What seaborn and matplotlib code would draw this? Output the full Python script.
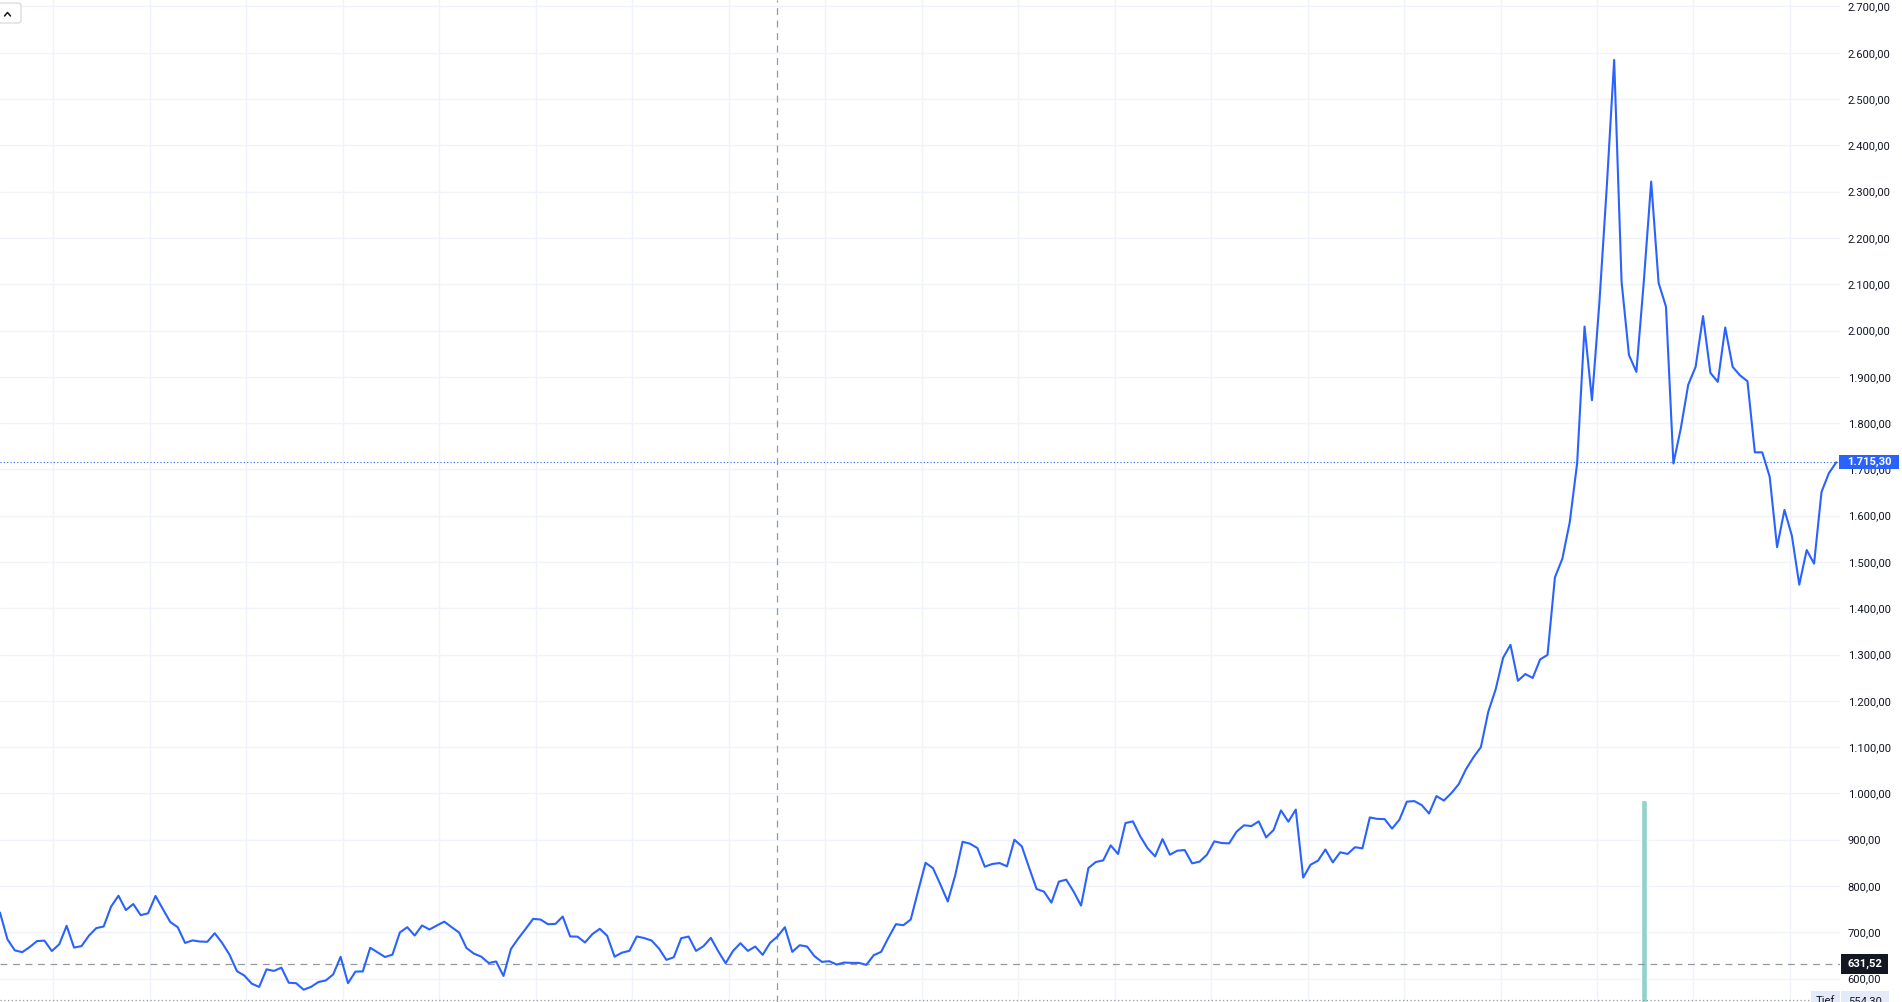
import matplotlib
matplotlib.use("Agg")
import numpy as np
import pandas as pd
import matplotlib.pyplot as plt
import seaborn as sns
from matplotlib.patches import FancyBboxPatch, Rectangle
from matplotlib.lines import Line2D
from matplotlib.transforms import blended_transform_factory

# weekly closing prices
close_prices = [
    742.6, 685, 661, 657, 668, 681, 682, 659.5, 674, 714, 667, 670, 692.5, 709, 712.5,
    755.5, 779, 748, 761, 737, 741, 778.5, 750, 722, 711, 677, 682.5, 680, 679.5, 698,
    677, 651.5, 616, 606.5, 589, 582, 620, 616.5, 623.6, 591, 590, 576, 582, 592.5, 596,
    609, 647, 590, 615, 615.5, 666.6, 656.5, 646.6, 651.6, 699.6, 711, 693, 714.7, 706,
    714.7, 723, 711, 699.6, 666, 654, 647.3, 633.6, 637, 605.7, 663.8, 686.7, 707.5, 729,
    727.5, 717.5, 718, 734, 691, 690.6, 678, 696, 707.5, 692.5, 647.3, 656, 660, 691, 687.5,
    682.2, 664.9, 640.4, 646.1, 687.2, 690.8, 659.8, 669.9, 687.9, 659.1, 633.2, 659.8,
    676.4, 659.8, 669.2, 651.2, 677.1, 690.8, 711, 657.7, 672.1, 669.2, 648.3, 636.1,
    637.5, 630.3, 634.6, 633.9, 633.9, 629.6, 650.5, 657.7, 688.7, 717.5, 715.3, 727.6,
    789.6, 850.1, 838.6, 803.3, 766.5, 822.7, 895.5,
    891.4, 882, 841.7, 847.5, 849.6, 842.5, 900, 885.6, 838.9, 793.5, 787.8, 764, 809.4,
    813.7, 787.8, 757.6, 838.9, 851.8, 855.4, 887.8, 869.1, 936, 939.6, 907.2, 881.3, 864,
    901.4, 867.6, 876.3, 877.7, 848.9, 852.5, 867.6, 896.4, 892.8, 892.1, 917.3, 931.1,
    929.5, 939.6, 905, 920.9, 963.3, 938.9,
    965.1, 818.2, 846.1, 854.6, 878.9, 851, 872.8, 869.2, 883.8, 881.3, 948.1, 945, 944.5,
    923.9, 943.3, 982.2, 983.4, 974.9, 956.6, 994.3, 984.6, 1000.4, 1019.8, 1052.6, 1078.1,
    1100, 1176.5, 1225, 1293, 1321, 1243.3, 1257.9, 1249.4, 1289.4, 1299.2, 1466.8, 1506.9,
    1585.8, 1713.3, 2008.5, 1849.4, 2059.5,
    2310, 2584.5, 2105.4, 1947, 1910.7, 2105.4, 2321.8, 2103, 2051.3, 1712.8, 1788.5,
    1882.8, 1921.5, 2031.2, 1908.4, 1889, 2006.5, 1921.5, 1903, 1890.6, 1736.8, 1736.8,
    1684.2, 1532, 1612.4, 1556.7, 1450.9, 1525.8, 1496.4, 1651, 1692, 1715.3,
]
last_price = 1715.30
ref_price = 631.52
low_price = 554.30
crosshair_bar = 105
volume_bar = 222
volume_top = 986
y_ticks = list(range(600, 2800, 100))

LINE_BLUE = "#2962FF"
GRID = "#f0f3fa"
TEXT = "#131722"


def de_fmt(v):
    return f"{v:,.2f}".replace(",", "X").replace(".", ",").replace("X", ".")


df = pd.DataFrame({"bar": np.arange(len(close_prices)), "close": close_prices})

sns.set_theme(style="white")
plt.rcParams["font.family"] = ["Roboto", "DejaVu Sans"]

W, H = 1902, 1002
fig = plt.figure(figsize=(W / 100, H / 100), dpi=100)
fig.patch.set_facecolor("white")
ax = fig.add_axes([0, 0, 1840 / W, 1])
ax.set_facecolor("white")

ax.set_xlim(0, 248.5)
ax.set_ylim(549.4, 2714)

# grid
ax.set_yticks(y_ticks)
ax.set_xticks(np.arange(7.2, 248, 13.03))
ax.grid(True, color=GRID, linewidth=1, zorder=0)
ax.set_axisbelow(True)
ax.tick_params(axis="x", length=0, labelbottom=False)
ax.yaxis.tick_right()
ax.tick_params(axis="y", length=0, pad=5.5, labelsize=8.1, labelcolor=TEXT)
ax.set_yticklabels([de_fmt(v) for v in y_ticks])
for s in ax.spines.values():
    s.set_visible(False)

# volume bar
ax.bar([volume_bar], [volume_top - 549.4], bottom=549.4, width=0.8,
       color="#92D2CC", zorder=1)

# reference lines
ax.axhline(ref_price, color="#9598a1", linewidth=0.9, linestyle=(0, (5.5, 4.5)), zorder=2)
ax.axhline(low_price, xmax=1811 / 1840, color="#9598a1", linewidth=0.9,
           linestyle=(0, (1, 2)), zorder=2)
ax.axhline(last_price, color=LINE_BLUE, linewidth=0.8, linestyle=(0, (1, 2)), zorder=2)
ax.axvline(crosshair_bar, color="#9598a1", linewidth=0.9, linestyle=(0, (5.5, 4.5)), zorder=2)

sns.lineplot(data=df, x="bar", y="close", color=LINE_BLUE, linewidth=1.5, ax=ax, zorder=3)
ax.set_xlabel("")
ax.set_ylabel("")

# price labels on the right scale
bt = blended_transform_factory(ax.transAxes, ax.transData)
px = 2714 - 549.4
px = px / H  # data units per pixel


def price_box(x0, x1, center, h_px, fc, text, tc, bold=True):
    ax.add_patch(Rectangle((x0 / 1840, center - h_px * px / 2), (x1 - x0) / 1840,
                           h_px * px, transform=bt, facecolor=fc, edgecolor="none",
                           clip_on=False, zorder=10))
    ax.text((x0 + x1) / 2 / 1840, center, text, transform=bt, ha="center", va="center",
            color=tc, fontsize=8.1, fontweight="bold" if bold else "normal",
            clip_on=False, zorder=11)


price_box(1839, 1899, last_price, 14, LINE_BLUE, de_fmt(last_price), "white")
price_box(1841, 1888, ref_price, 20, TEXT, de_fmt(ref_price), "white")
price_box(1811, 1840, low_price - 1.5 * px, 20, "#e3ebfb", "Tief", TEXT, bold=False)
price_box(1841, 1889, low_price - 1.5 * px, 20, "#e3ebfb", de_fmt(low_price), TEXT, bold=False)

# small collapse button top left
fig.add_artist(FancyBboxPatch((-3 / W, 1 - 23 / H), 24 / W, 20 / H,
                              boxstyle="round,pad=0,rounding_size=0.002",
                              transform=fig.transFigure, facecolor="white",
                              edgecolor="#d1d4dc", linewidth=0.8))
fig.add_artist(Line2D([4.5 / W, 7.5 / W, 10.5 / W], [1 - 16 / H, 1 - 12.5 / H, 1 - 16 / H],
                      transform=fig.transFigure, color=TEXT, linewidth=1.1))

fig.savefig("out.png", dpi=100)
